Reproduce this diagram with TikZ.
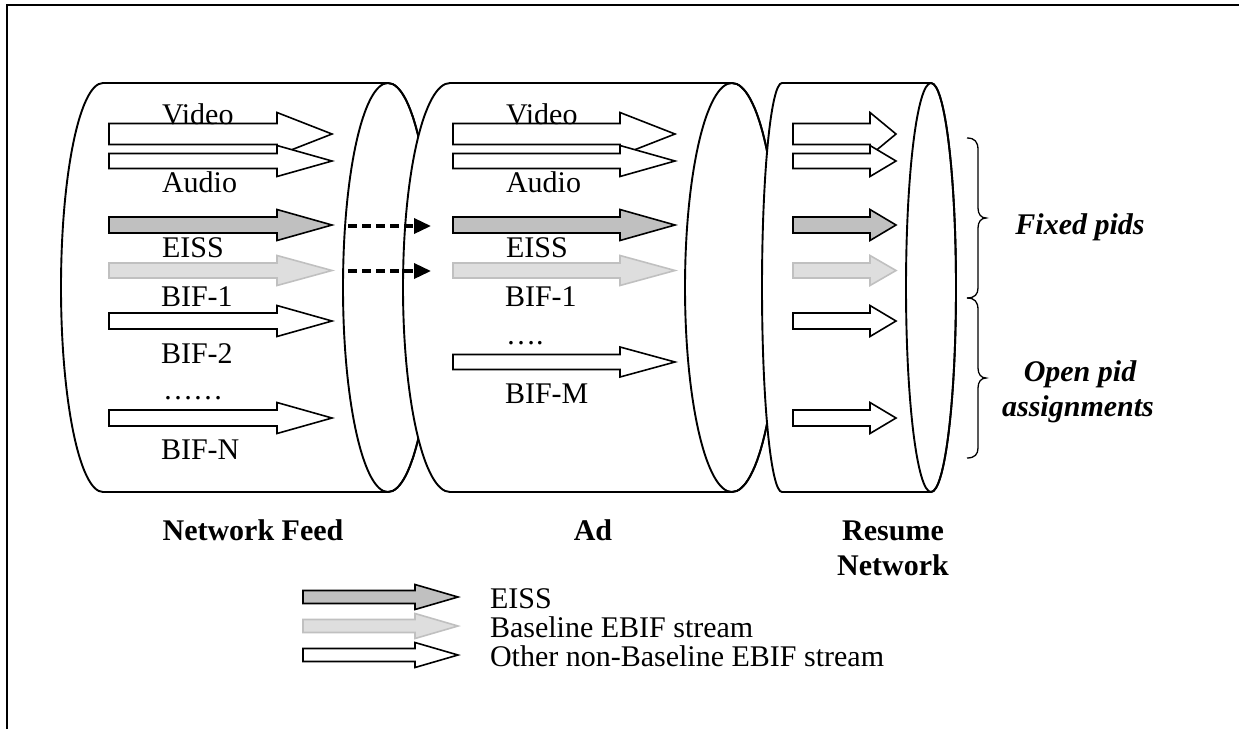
\documentclass[tikz,border=0pt]{standalone}
\usepackage{fontspec}
\setmainfont{Liberation Serif}
\usetikzlibrary{arrows.meta}
\definecolor{eissgray}{RGB}{192,192,192}
\definecolor{basefill}{RGB}{222,222,222}
\definecolor{basedraw}{RGB}{192,192,192}
\newcommand\blockarr[7]{%
  \path[#1] (#2,#5-#6) -- (#3,#5-#6) -- (#3,#5-#7) -- (#4,#5) -- (#3,#5+#7) -- (#3,#5+#6) -- (#2,#5+#6) -- cycle;}
\newcommand\cylbody[4]{%
  \path[cylfill] (#1,83) arc[start angle=270,end angle=90,x radius=#2,y radius=204.5]
     -- (#3,492) arc[start angle=90,end angle=-90,x radius=#4,y radius=204.5] -- cycle;
  \draw[cylline] (#3,287.5) ellipse[x radius=#4,y radius=204.5];}
\begin{document}
\begin{tikzpicture}[x=1pt,y=-1pt,
  every node/.style={font=\fontsize{30}{35}\selectfont, inner sep=0pt, outer sep=0pt},
  lbl/.style={anchor=base west},
  ttl/.style={anchor=base, font=\fontsize{30}{35}\selectfont\bfseries},
  brtxt/.style={anchor=base, font=\fontsize{30}{35}\selectfont\bfseries\itshape},
  cylfill/.style={draw=black, fill=white, line width=1.9pt},
  cylline/.style={draw=black, line width=1.9pt},
  whitearr/.style={draw=black, fill=white, line width=1.6pt, line join=miter},
  grayarr/.style={draw=black, fill=eissgray, line width=1.6pt, line join=miter},
  basearr/.style={draw=basedraw, fill=basefill, line width=1.6pt, line join=miter},
  dasharr/.style={draw=black, line width=3.5pt, dash pattern=on 9pt off 5pt, -{Triangle[length=17pt,width=15pt]}},
  bracestyle/.style={draw=black, line width=1.3pt}]
\useasboundingbox (0,0) rectangle (1239,729);
\fill[white] (0,0) rectangle (1239,729);
% frame
\draw[line width=2.5pt] (7,729) -- (7,5) -- (1239,5);

% ---------- Cylinder 1: Network Feed
\cylbody{103}{42}{388}{45}
\blockarr{whitearr}{109}{277}{332}{134}{10.5}{21.5}
\blockarr{whitearr}{109}{277}{332}{161}{7.5}{15.5}
\blockarr{grayarr}{109}{277}{332}{225}{8}{15.5}
\blockarr{basearr}{109}{277}{332}{270.5}{7.5}{15}
\blockarr{whitearr}{109}{277}{332}{321}{8}{15.5}
\blockarr{whitearr}{109}{277}{332}{418}{8}{15.5}

% ---------- Cylinder 2: Ad
\cylbody{450}{47}{732}{47}
\blockarr{whitearr}{453}{620}{675}{134}{10.5}{21.5}
\blockarr{whitearr}{453}{620}{675}{161}{7.5}{15.5}
\blockarr{grayarr}{453}{620}{675}{225}{8}{15.5}
\blockarr{basearr}{453}{620}{675}{270.5}{7.5}{15}
\blockarr{whitearr}{453}{620}{675}{362}{7.5}{15}

% dashed connectors
\coordinate (d1s) at (348,226);
\coordinate (d1e) at (431,226);
\coordinate (d2s) at (348,271);
\coordinate (d2e) at (431,271);
\draw[dasharr] (d1s) -- (d1e);
\draw[dasharr] (d2s) -- (d2e);

% ---------- Cylinder 3: Resume Network
\cylbody{782}{20}{931}{25}
\blockarr{whitearr}{793}{870}{896}{134}{10.5}{21.5}
\blockarr{whitearr}{793}{870}{896}{161}{7.5}{15.5}
\blockarr{grayarr}{793}{870}{896}{225}{8}{15.5}
\blockarr{basearr}{793}{870}{896}{270.5}{7.5}{15}
\blockarr{whitearr}{793}{870}{896}{321}{8}{15.5}
\blockarr{whitearr}{793}{870}{896}{418}{8}{15.5}

% braces
\draw[bracestyle] (967,138) .. controls (975,138) and (978,142) .. (978,150) -- (978,208)
  .. controls (978,214) and (981,218) .. (986,218) .. controls (981,218) and (978,222) .. (978,228)
  -- (978,288) .. controls (978,294) and (975,298) .. (967,298);
\draw[bracestyle] (967,298) .. controls (975,298) and (978,302) .. (978,310) -- (978,368)
  .. controls (978,374) and (981,378) .. (986,378) .. controls (981,378) and (978,382) .. (978,388)
  -- (978,448) .. controls (978,454) and (975,458) .. (967,458);

% ---------- labels cylinder 1
\node[lbl] (n1v) at (162,124) {Video};
\node[lbl] (n1a) at (162,192) {Audio};
\node[lbl] (n1e) at (162,257) {EISS};
\node[lbl] (n1b1) at (161,306) {BIF-1};
\node[lbl] (n1b2) at (161,363) {BIF-2};
\node[lbl] (n1d) at (163,399) {……};
\node[lbl] (n1bn) at (161,459) {BIF-N};
% labels cylinder 2
\node[lbl] (n2v) at (506,124) {Video};
\node[lbl] (n2a) at (506,192) {Audio};
\node[lbl] (n2e) at (506,257) {EISS};
\node[lbl] (n2b1) at (505,306) {BIF-1};
\node[lbl] (n2d) at (506,344) {….};
\node[lbl] (n2bm) at (505,403) {BIF-M};

% titles
\node[ttl] (t1) at (253,540) {Network Feed};
\node[ttl] (t2) at (593,540) {Ad};
\node[ttl] (t3a) at (893,540) {Resume};
\node[ttl] (t3b) at (893,575) {Network};

% brace texts
\node[brtxt] (fx) at (1080,234) {Fixed pids};
\node[brtxt] (op1) at (1080,381) {Open pid};
\node[brtxt] (op2) at (1078,416) {assignments};

% legend
\blockarr{grayarr}{303}{415}{458}{597}{6.5}{12.5}
\blockarr{basearr}{303}{415}{458}{626}{6.5}{12.5}
\blockarr{whitearr}{303}{415}{458}{655}{6.5}{12.5}
\node[lbl] (lg1) at (490,608) {EISS};
\node[lbl] (lg2) at (490,637) {Baseline EBIF stream};
\node[lbl] (lg3) at (490,666) {Other non-Baseline EBIF stream};
\end{tikzpicture}
\end{document}
